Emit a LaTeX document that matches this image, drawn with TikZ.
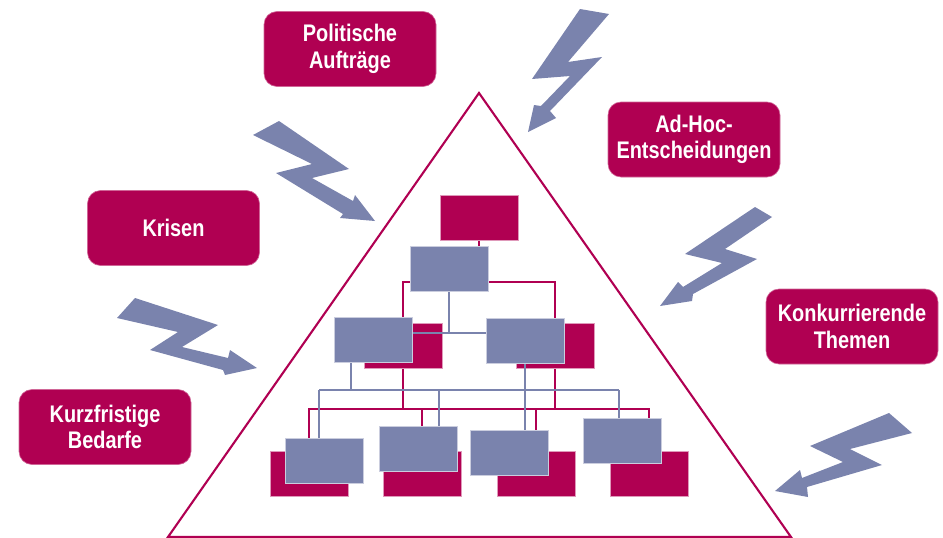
\documentclass[tikz,border=0pt]{standalone}
\usepackage{fontspec}
\setmainfont{Liberation Sans}[FakeStretch=0.83]
\definecolor{mag}{RGB}{176,0,82}
\definecolor{blu}{RGB}{122,131,173}
\pgfdeclarelayer{mlines}
\pgfdeclarelayer{mboxes}
\pgfdeclarelayer{blines}
\pgfsetlayers{mlines,mboxes,blines,main}
\tikzset{
  orgbox/.style={rectangle, inner sep=0pt, outer sep=0pt, minimum width=78pt, minimum height=45pt, anchor=north west, line width=0.7pt},
  mbox/.style={orgbox, fill=mag, draw=mag!40!white},
  bbox/.style={orgbox, fill=blu, draw=blu!40!white},
  mline/.style={draw=mag, line width=1.1pt},
  bline/.style={draw=blu, line width=1.1pt},
  label/.style={rectangle, rounded corners=13pt, fill=mag, draw=mag!60!white, line width=0.6pt, text=white, align=center, inner sep=0pt, minimum width=172pt, minimum height=75pt, font=\fontsize{24}{26.6}\selectfont\bfseries},
  bolt/.style={fill=blu},
  tri/.style={draw=mag, line width=2.1pt, line join=miter}
}
\begin{document}
\begin{tikzpicture}[x=1pt,y=-1pt]
\useasboundingbox (0,0) rectangle (943,538);

% triangle
\draw[tri] (479,93) -- (791,537) -- (168,537) -- cycle;

% labels
\node[label] (pol) at (350,49) {Politische\\Aufträge};
\node[label] (adh) at (694,139.5) {Ad-Hoc-\\Entscheidungen};
\node[label] (kri) at (173.5,228) {Krisen};
\node[label] (kon) at (852,326.5) {Konkurrierende\\Themen};
\node[label] (kur) at (105,427) {Kurzfristige\\Bedarfe};

% org chart: magenta boxes
\begin{pgfonlayer}{mboxes}
\node[mbox] (m0) at (440,195) {};
\node[mbox] (mL) at (364,323) {};
\node[mbox] (mR) at (516,323) {};
\node[mbox] (M1) at (270,451) {};
\node[mbox] (M2) at (383,451) {};
\node[mbox] (M3) at (497,451) {};
\node[mbox] (M4) at (610,451) {};
\end{pgfonlayer}

% org chart: blue boxes
\node[bbox] (b1) at (410,246) {};
\node[bbox] (bL) at (334,317) {};
\node[bbox] (bR) at (486,318) {};
\node[bbox] (B1) at (285,438) {};
\node[bbox] (B2) at (379,426) {};
\node[bbox] (B3) at (470,430) {};
\node[bbox] (B4) at (583,418) {};

% junction coordinates
\coordinate (mh1) at (479,282);
\coordinate (mh2) at (479,409);
\coordinate (bh1) at (449,333);
\coordinate (bh2L) at (319,390);
\coordinate (bh2R) at (619,390);
\coordinate (bLd) at (351,390);
\coordinate (bd2) at (439,390);

% magenta connectors
\begin{pgfonlayer}{mlines}
\draw[mline] (m0.south) -- (mh1);
\draw[mline] (mL.north) |- (mh1) -| (mR.north);
\draw[mline] (M1.north) |- (mh2) -| (M4.north);
\draw[mline] (M2.north) -- (M2.north |- mh2);
\draw[mline] (M3.north) -- (M3.north |- mh2);
\draw[mline] (mL.south) -- (mL.south |- mh2);
\draw[mline] (mR.south) -- (mR.south |- mh2);
\end{pgfonlayer}

% blue connectors
\begin{pgfonlayer}{blines}
\draw[bline] (b1.south) -- (bh1);
\draw[bline] (bL.east |- bh1) -- (bR.west |- bh1);
\draw[bline] (bLd |- bL.south) -- (bLd);
\draw[bline] (bh2L) -- (bh2R);
\draw[bline] (bR.south) -- (bR.south |- B3.north);
\draw[bline] (bh2L) -- (bh2L |- B1.north);
\draw[bline] (bd2) -- (bd2 |- B2.north);
\draw[bline] (bh2R) -- (bh2R |- B4.north);
\end{pgfonlayer}

% lightning bolts
\fill[bolt] (580,9) -- (609,14) -- (568,62) -- (602,57) -- (550,111) -- (556,118) -- (528,132) -- (534,105) -- (541,106) -- (570,76) -- (532,79) -- cycle;
\fill[bolt] (253,135) -- (279,121) -- (349,169) -- (312,178) -- (353,201) -- (355,195) -- (375,221) -- (340,218) -- (343,214) -- (276,173) -- (312,164) -- cycle;
\fill[bolt] (117,318) -- (135,298) -- (218,325) -- (182,347) -- (228,358) -- (230,350) -- (257,368) -- (225,375) -- (223,370) -- (150,350) -- (178,332) -- cycle;
\fill[bolt] (755,207) -- (772,217) -- (725,249) -- (757,259) -- (693,294) -- (692,301) -- (660,306) -- (678,282) -- (683,287) -- (722,263) -- (685,254) -- cycle;
\fill[bolt] (889,413) -- (912,433) -- (850,449) -- (882,465) -- (807,487) -- (808,497) -- (775,491) -- (800,470) -- (802,478) -- (843,462) -- (810,446) -- cycle;
\end{tikzpicture}
\end{document}
